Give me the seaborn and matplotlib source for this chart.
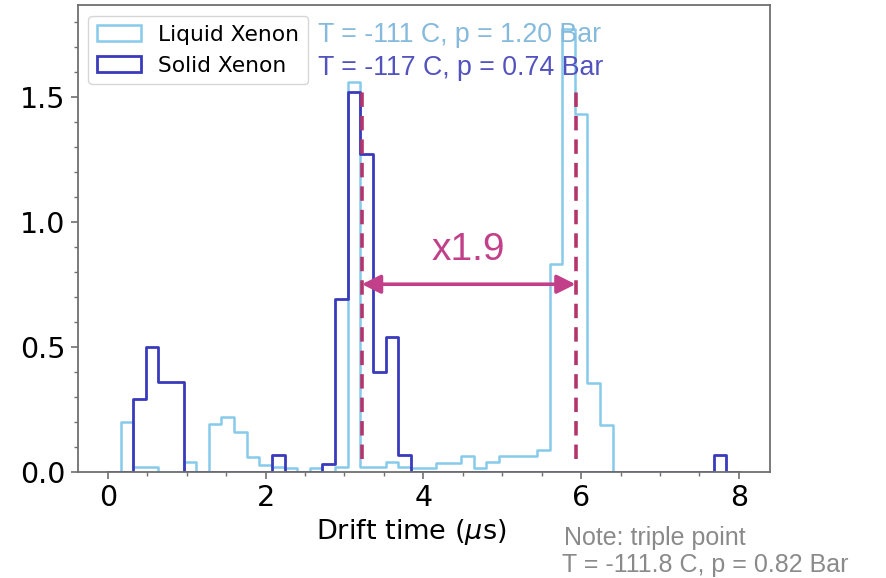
import numpy as np
import pandas as pd
import matplotlib
matplotlib.use("Agg")
import matplotlib.pyplot as plt
import seaborn as sns
from matplotlib.patches import Patch
from matplotlib.ticker import MultipleLocator

# ---------------- data ----------------
bin_edges = [round(0.16 * k, 2) for k in range(51)]   # 50 bins of 0.16 us

liquid_heights = [0.00, 0.20, 0.02, 0.02, 0.00, 0.00, 0.04, 0.00, 0.19, 0.22,
                  0.16, 0.06, 0.025, 0.02, 0.016, 0.00, 0.016, 0.00, 0.02, 1.56,
                  0.02, 0.02, 0.04, 0.02, 0.014, 0.014, 0.036, 0.036, 0.063, 0.014,
                  0.04, 0.063, 0.063, 0.063, 0.087, 0.83, 1.77, 1.43, 0.354, 0.187,
                  0, 0, 0, 0, 0, 0, 0, 0, 0, 0]

solid_heights = [0.00, 0.00, 0.29, 0.50, 0.36, 0.36, 0, 0, 0, 0,
                 0, 0, 0, 0.067, 0, 0, 0, 0.031, 0.69, 1.52,
                 1.27, 0.40, 0.54, 0.067, 0, 0, 0, 0, 0, 0,
                 0, 0, 0, 0, 0, 0, 0, 0, 0, 0,
                 0, 0, 0, 0, 0, 0, 0, 0, 0.067, 0]

series_labels = ["Liquid Xenon", "Solid Xenon"]
condition_labels = ["T = -111 C, p = 1.20 Bar", "T = -117 C, p = 0.74 Bar"]
peak_solid = 3.22
peak_liquid = 5.93
ratio_label = "x1.9"
note_lines = ["Note: triple point", "T = -111.8 C, p = 0.82 Bar"]

# ---------------- styling ----------------
liquid_color = "#87cbea"
solid_color = "#3a3abd"
liquid_text = "#86badc"
solid_text = "#5353bf"
marker_color = "#b3356d"
arrow_color = "#c2408a"
spine_color = "#707070"

edges = np.array(bin_edges)
centers = (edges[:-1] + edges[1:]) / 2
df = pd.DataFrame({"center": centers,
                   "liquid": np.array(liquid_heights, dtype=float),
                   "solid": np.array(solid_heights, dtype=float)})

fig = plt.figure(figsize=(8.87, 5.78), dpi=100)
ax = fig.add_subplot(111)
fig.subplots_adjust(left=0.0874, right=0.8681, top=0.9913, bottom=0.1839)

sns.histplot(data=df, x="center", weights="liquid", bins=bin_edges, element="step",
             fill=False, color=liquid_color, linewidth=1.8, ax=ax)
sns.histplot(data=df, x="center", weights="solid", bins=bin_edges, element="step",
             fill=False, color=solid_color, linewidth=2.0, ax=ax)

ax.set_xlim(-0.385, 8.395)
ax.set_ylim(0, 1.867)

# dashed peak markers
ax.vlines([peak_solid, peak_liquid], 0.05, 1.52, colors=marker_color,
          linestyles=(0, (4, 2.5)), linewidth=2.6, zorder=3)

# double arrow
ax.annotate("", xy=(peak_liquid, 0.75), xytext=(peak_solid, 0.75),
            arrowprops=dict(arrowstyle="<|-|>", color=arrow_color, lw=2.6,
                            mutation_scale=28, shrinkA=0, shrinkB=0), zorder=4)
ax.text((peak_solid + peak_liquid) / 2, 0.885, ratio_label, color=arrow_color,
        fontsize=28, family="Liberation Sans", ha="center", va="center")

# condition texts
ax.text(2.66, 1.747, condition_labels[0], color=liquid_text, fontsize=19.3,
        family="Liberation Sans", ha="left", va="center")
ax.text(2.66, 1.615, condition_labels[1], color=solid_text, fontsize=19.3,
        family="Liberation Sans", ha="left", va="center")

# note outside axes
fig.text(0.636, 0.069, note_lines[0], color="#8a8a8a", fontsize=18,
         family="Liberation Sans", ha="left", va="center")
fig.text(0.634, 0.0225, note_lines[1], color="#8a8a8a", fontsize=18,
         family="Liberation Sans", ha="left", va="center")

# legend with rectangle handles
handles = [Patch(facecolor="none", edgecolor=liquid_color, linewidth=1.8),
           Patch(facecolor="none", edgecolor=solid_color, linewidth=2.0)]
ax.legend(handles, series_labels, loc="upper left", fontsize=15.7, framealpha=0.8)

# axes styling
ax.set_xlabel(r"Drift time ($\mu$s)", fontsize=19.5)
ax.set_ylabel("")
ax.xaxis.label.set_x(0.482)
ax.xaxis.set_major_locator(MultipleLocator(2))
ax.xaxis.set_minor_locator(MultipleLocator(0.5))
ax.yaxis.set_major_locator(MultipleLocator(0.5))
ax.yaxis.set_minor_locator(MultipleLocator(0.1))
ax.tick_params(which="major", labelsize=20.5, length=5, width=1.2, color=spine_color)
ax.tick_params(which="minor", length=3, width=1.0, color=spine_color)
for sp in ax.spines.values():
    sp.set_color(spine_color)
    sp.set_linewidth(1.3)

fig.savefig("out.png", dpi=100)
